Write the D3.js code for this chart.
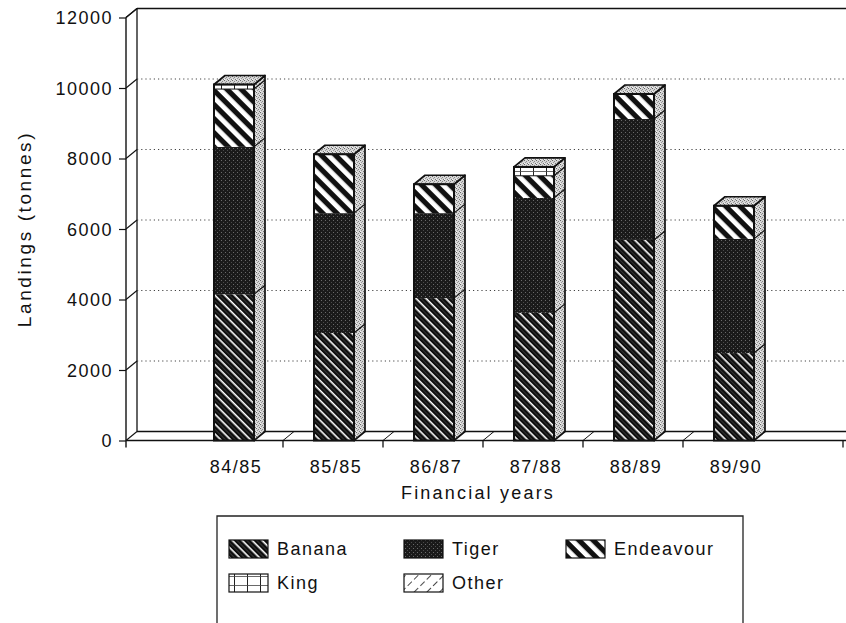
<!DOCTYPE html>
<html>
<head>
<meta charset="utf-8">
<script src="https://cdn.jsdelivr.net/npm/d3@7"></script>
<style>
  html, body { margin: 0; padding: 0; background: #fff; }
  svg text { font-family: "Liberation Sans", Arial, Helvetica, sans-serif; fill: #111; }
</style>
</head>
<body>
<svg id="chart" width="846" height="623"></svg>
<script>
// Prawn landings by species (tonnes), per financial year
const years     = ["84/85", "85/85", "86/87", "87/88", "88/89", "89/90"];
const banana    = [4150, 3050, 4040, 3620, 5690, 2480];
const tiger     = [4180, 3400, 2410, 3260, 3430, 3240];
const endeavour = [1640, 1670,  820,  630,  710,  940];
const king      = [ 130,    0,    0,  250,    0,    0];
const other     = [   0,    0,    0,    0,    0,    0];
const species   = ["Banana", "Tiger", "Endeavour", "King", "Other"];
const yTicks    = [0, 2000, 4000, 6000, 8000, 10000, 12000];

const table = years.map((yr, i) => ({
  year: yr, Banana: banana[i], Tiger: tiger[i], Endeavour: endeavour[i], King: king[i], Other: other[i]
}));

const svg = d3.select("#chart");
const defs = svg.append("defs");

// ---- fill patterns -------------------------------------------------------
function pattern(id, w, h, rot) {
  const p = defs.append("pattern").attr("id", id)
    .attr("patternUnits", "userSpaceOnUse").attr("width", w).attr("height", h);
  if (rot) p.attr("patternTransform", `rotate(${rot})`);
  return p;
}
// Banana: dark, fine white "\" stripes
{
  const p = pattern("pBanana", 7, 7, 45);
  p.append("rect").attr("width", 7).attr("height", 7).attr("fill", "#0e0e0e");
  p.append("rect").attr("y", 0).attr("width", 7).attr("height", 1.6).attr("fill", "#fff");
  p.append("rect").attr("y", 4.2).attr("width", 7).attr("height", 0.5).attr("fill", "#555");
}
// Tiger: dark stipple
{
  const p = pattern("pTiger", 4, 4);
  p.append("rect").attr("width", 4).attr("height", 4).attr("fill", "#1a1a1a");
  p.append("rect").attr("x", 1).attr("y", 0).attr("width", 1).attr("height", 1).attr("fill", "#6a6a6a");
  p.append("rect").attr("x", 3).attr("y", 2).attr("width", 1).attr("height", 1).attr("fill", "#4a4a4a");
}
// Endeavour: bold black/white "\" stripes
{
  const p = pattern("pEndeavour", 10, 10, 45);
  p.append("rect").attr("width", 10).attr("height", 10).attr("fill", "#fff");
  p.append("rect").attr("width", 10).attr("height", 5.2).attr("fill", "#111");
}
// King: white cells with thin rules
{
  const p = pattern("pKing", 13, 9);
  p.append("rect").attr("width", 13).attr("height", 9).attr("fill", "#fff");
  p.append("rect").attr("x", 0).attr("width", 1).attr("height", 9).attr("fill", "#222");
  p.append("rect").attr("y", 0).attr("width", 13).attr("height", 0.8).attr("fill", "#444");
}
// Other: sparse broken "/" lines
{
  const p = pattern("pOther", 9, 9, -45);
  p.append("rect").attr("width", 9).attr("height", 9).attr("fill", "#fff");
  p.append("rect").attr("y", 0).attr("width", 6).attr("height", 0.9).attr("fill", "#333");
}
// light stipple used on the side and top faces
{
  const p = pattern("pSide", 4, 4);
  p.append("rect").attr("width", 4).attr("height", 4).attr("fill", "#d6d6d6");
  p.append("rect").attr("x", 0).attr("y", 0).attr("width", 1).attr("height", 1).attr("fill", "#666");
  p.append("rect").attr("x", 2).attr("y", 1).attr("width", 1).attr("height", 1).attr("fill", "#888");
  p.append("rect").attr("x", 1).attr("y", 2).attr("width", 1).attr("height", 1).attr("fill", "#999");
  p.append("rect").attr("x", 3).attr("y", 3).attr("width", 1).attr("height", 1).attr("fill", "#777");
  p.append("rect").attr("x", 0).attr("y", 3).attr("width", 1).attr("height", 1).attr("fill", "#f4f4f4");
}
const fills = { Banana: "url(#pBanana)", Tiger: "url(#pTiger)", Endeavour: "url(#pEndeavour)",
                King: "url(#pKing)", Other: "url(#pOther)" };

// ---- geometry ------------------------------------------------------------
const DX = 11, DY = -9;               // depth offset of the 3-D frame
const axisX = 126, rightX = 843;
const y = d3.scaleLinear().domain([0, 12000]).range([440.5, 17.5]);
const x = d3.scaleBand().domain(years).range([184, 784]).paddingInner(0.6).paddingOuter(0.3);
const bw = x.bandwidth();
const font = 18, spacing = 1.5;

// back wall
const wall = svg.append("g").attr("fill", "none").attr("stroke", "#111");
wall.append("line").attr("x1", axisX + DX).attr("x2", axisX + DX)
  .attr("y1", y(12000) + DY).attr("y2", y(0) + DY).attr("stroke-width", 1.3);
wall.append("line").attr("x1", axisX + DX).attr("x2", 846 + DX)
  .attr("y1", y(12000) + DY).attr("y2", y(12000) + DY).attr("stroke-width", 1.3);
wall.append("line").attr("x1", axisX).attr("x2", axisX + DX)
  .attr("y1", y(12000)).attr("y2", y(12000) + DY).attr("stroke-width", 1.2);

// gridlines on the back wall
svg.append("g").selectAll("line").data(yTicks.filter(v => v > 0 && v < 12000)).join("line")
  .attr("x1", axisX + DX).attr("x2", 846)
  .attr("y1", v => y(v) + DY).attr("y2", v => y(v) + DY)
  .attr("stroke", "#444").attr("stroke-width", 1).attr("stroke-dasharray", "1.2,3");

// diagonal tick connectors from the front axis to the wall
svg.append("g").selectAll("line").data(yTicks).join("line")
  .attr("x1", axisX).attr("y1", v => y(v))
  .attr("x2", axisX + DX).attr("y2", v => y(v) + DY)
  .attr("stroke", "#111").attr("stroke-width", 1.1);

// floor
const floor = svg.append("g").attr("stroke", "#111");
floor.append("line").attr("x1", axisX + DX).attr("x2", 846)
  .attr("y1", y(0) + DY).attr("y2", y(0) + DY).attr("stroke-width", 1.3);
floor.append("line").attr("x1", axisX).attr("x2", rightX + 3)
  .attr("y1", y(0)).attr("y2", y(0)).attr("stroke-width", 1.4);

// category boundaries: ticks below the floor and diagonals across it
const bounds = years.slice(0, -1).map((yr, i) => (x(yr) + x(years[i + 1]) + bw) / 2 - 1);
floor.selectAll("line.diag").data(bounds).join("line").attr("class", "diag")
  .attr("x1", d => d).attr("y1", y(0)).attr("x2", d => d + DX).attr("y2", y(0) + DY)
  .attr("stroke-width", 1);
floor.selectAll("line.tk").data(bounds.concat([rightX])).join("line").attr("class", "tk")
  .attr("x1", d => d).attr("x2", d => d).attr("y1", y(0)).attr("y2", y(0) + 7)
  .attr("stroke-width", 1.3);

// y axis
const yAxis = svg.append("g").attr("transform", `translate(${axisX},0)`)
  .call(d3.axisLeft(y).tickValues(yTicks).tickFormat(d3.format("d"))
    .tickSizeInner(7).tickSizeOuter(0).tickPadding(6));
yAxis.select(".domain").attr("stroke", "#111").attr("stroke-width", 1.4)
  .attr("d", `M0,${y(12000)}V${y(0) + 7}`);
yAxis.selectAll(".tick line").attr("stroke", "#111").attr("stroke-width", 1.2);
yAxis.selectAll(".tick text").attr("font-size", font).attr("letter-spacing", spacing)
  .attr("font-family", null).attr("fill", "#111").attr("dy", "0.36em");
yAxis.attr("font-family", null).attr("font-size", null);

// ---- stacked 3-D bars ----------------------------------------------------
const layers = d3.stack().keys(species)(table);
const bars = svg.append("g");
years.forEach((yr, i) => {
  const x0 = x(yr), x1 = x0 + bw;
  const total = layers[layers.length - 1][i][1];
  const g = bars.append("g");
  // front face segments
  layers.forEach(layer => {
    const [a, b] = layer[i];
    if (b - a <= 0) return;
    g.append("rect").attr("x", x0).attr("y", y(b)).attr("width", bw).attr("height", y(a) - y(b))
      .attr("fill", fills[layer.key]).attr("stroke", layer.key === "King" || layer.key === "Other" ? "#111" : "none")
      .attr("stroke-width", 1);
  });
  // side face
  g.append("polygon")
    .attr("points", [[x1, y(total)], [x1 + DX, y(total) + DY], [x1 + DX, y(0) + DY], [x1, y(0)]].join(" "))
    .attr("fill", "url(#pSide)").attr("stroke", "#111").attr("stroke-width", 1.7).attr("stroke-linejoin", "round");
  layers.slice(0, -1).forEach(layer => {
    const top = layer[i][1];
    if (top <= 0 || top >= total) return;
    g.append("line").attr("x1", x1).attr("y1", y(top)).attr("x2", x1 + DX).attr("y2", y(top) + DY)
      .attr("stroke", "#111").attr("stroke-width", 1.2);
  });
  // top face
  g.append("polygon")
    .attr("points", [[x0, y(total)], [x0 + DX, y(total) + DY], [x1 + DX, y(total) + DY], [x1, y(total)]].join(" "))
    .attr("fill", "url(#pSide)").attr("stroke", "#111").attr("stroke-width", 1.7).attr("stroke-linejoin", "round");
  // front outline
  g.append("rect").attr("x", x0).attr("y", y(total)).attr("width", bw).attr("height", y(0) - y(total))
    .attr("fill", "none").attr("stroke", "#111").attr("stroke-width", 2);
});

// category labels
svg.append("g").selectAll("text").data(years).join("text")
  .attr("x", d => x(d) + bw / 2 + 2).attr("y", 473)
  .attr("text-anchor", "middle").attr("font-size", font).attr("letter-spacing", spacing)
  .text(d => d);

// axis titles
svg.append("text").attr("x", 478).attr("y", 499).attr("text-anchor", "middle")
  .attr("font-size", font).attr("letter-spacing", 2.2).text("Financial years");
svg.append("text").attr("transform", "translate(31,229) rotate(-90)").attr("text-anchor", "middle")
  .attr("font-size", 19).attr("letter-spacing", 2.6).text("Landings (tonnes)");

// ---- legend --------------------------------------------------------------
const legend = svg.append("g");
legend.append("path").attr("d", "M217,640V516H743V640").attr("fill", "none")
  .attr("stroke", "#222").attr("stroke-width", 1.3);
const legendPos = [[229, 540], [404, 540], [566, 540], [229, 574], [404, 574]];
species.forEach((s, k) => {
  const [lx, ly] = legendPos[k];
  legend.append("rect").attr("x", lx).attr("y", ly).attr("width", 39).attr("height", 18)
    .attr("fill", fills[s]).attr("stroke", "#111").attr("stroke-width", 1.2);
  legend.append("text").attr("x", lx + 48).attr("y", ly + 15)
    .attr("font-size", font).attr("letter-spacing", spacing).text(s);
});
</script>
</body>
</html>
